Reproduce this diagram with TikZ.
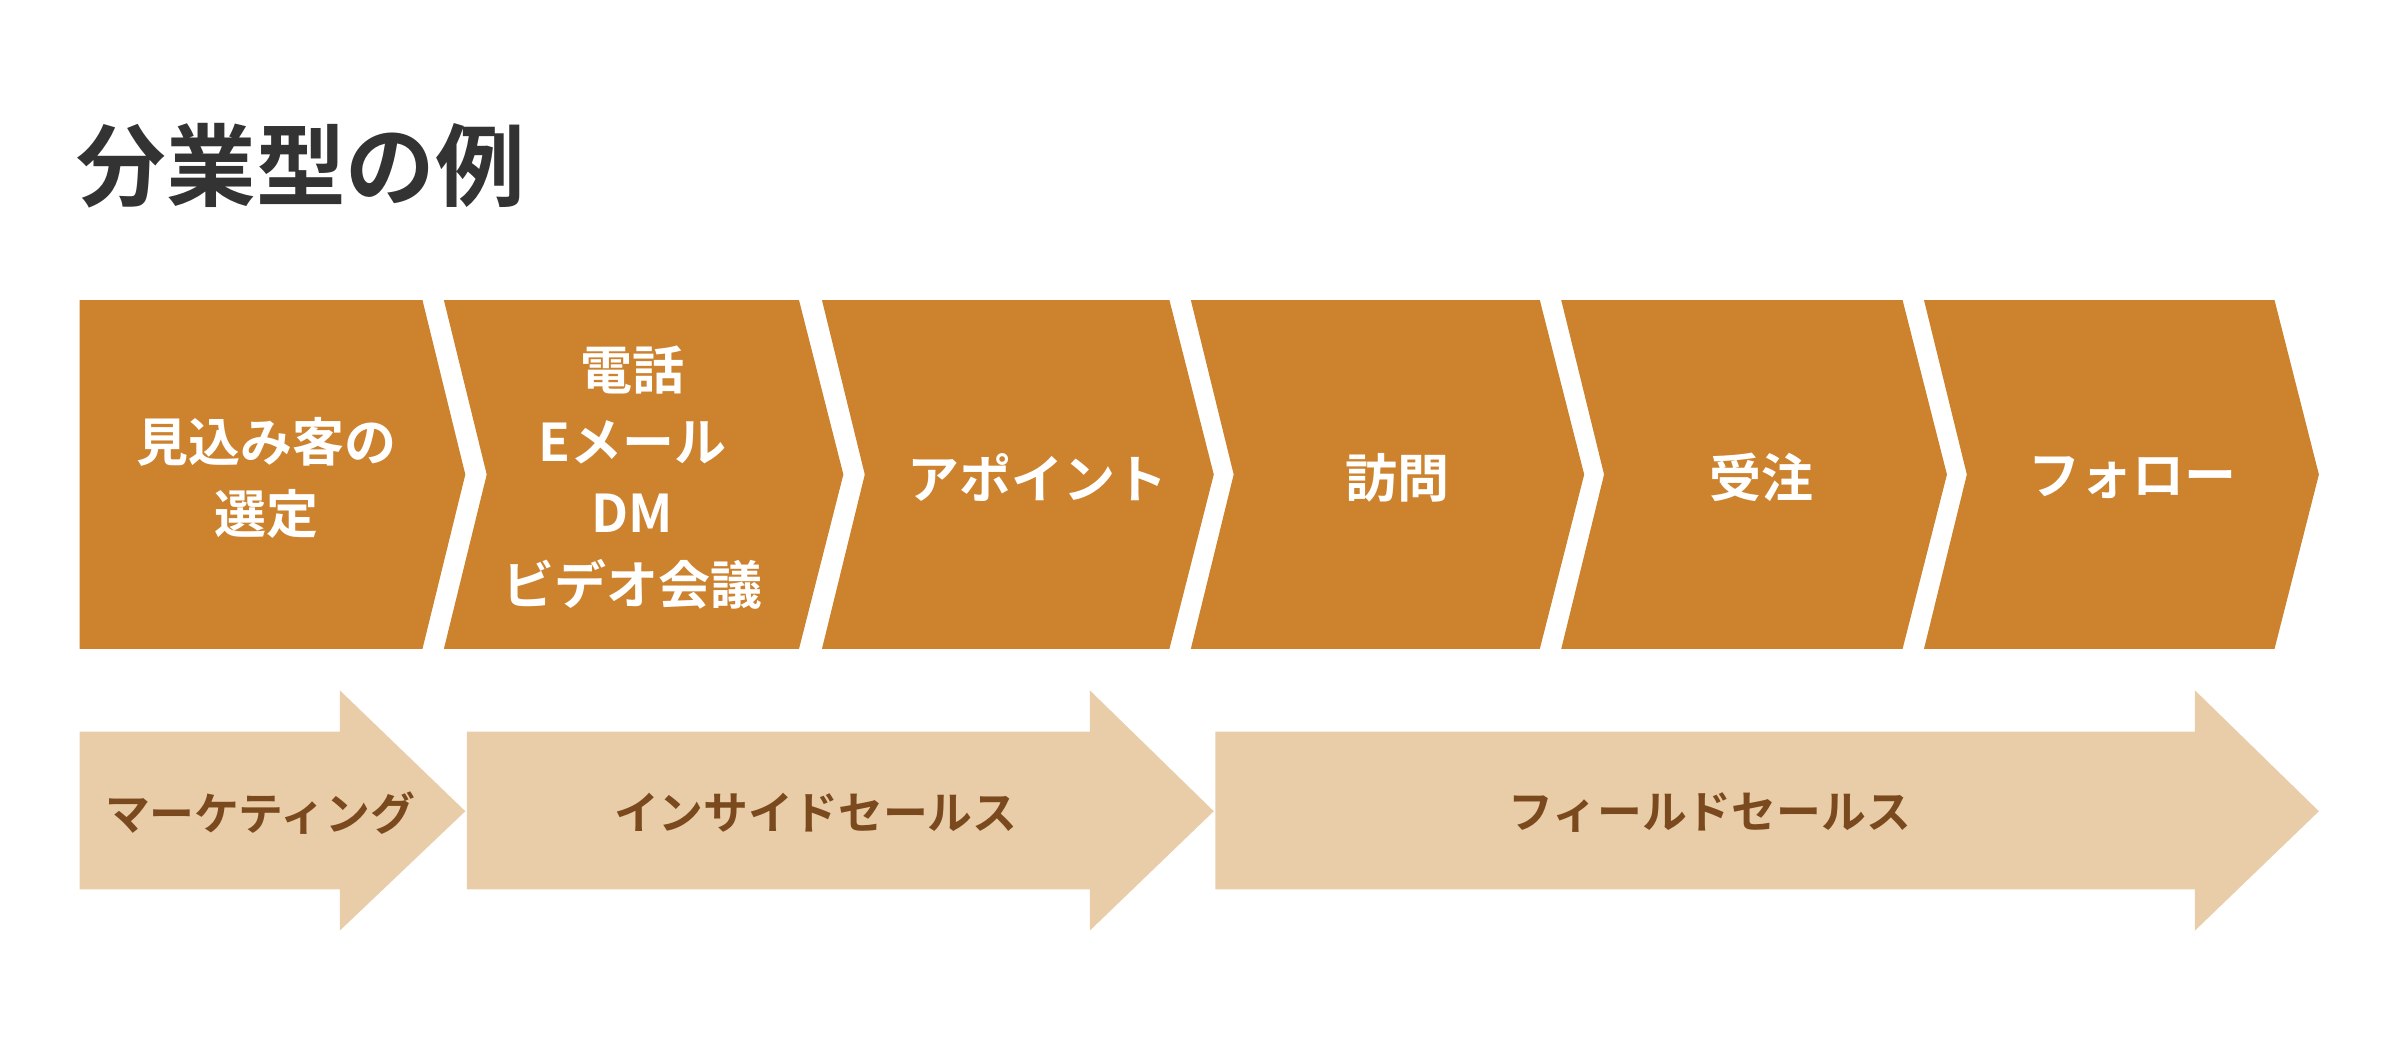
\documentclass[tikz,border=0pt]{standalone}
\usepackage{fontspec}
\setmainfont{Noto Sans CJK JP}[BoldFont={* Bold}]
\definecolor{dark}{HTML}{CD822E}
\definecolor{light}{HTML}{E9CDA9}
\definecolor{brown}{HTML}{7A4A1E}
\definecolor{ttl}{HTML}{333333}
\begin{document}
\begin{tikzpicture}[x=0.3mm,y=-0.3mm,
  chev/.style={fill=dark,draw=none},
  arr/.style={fill=light,draw=none},
  ctext/.style={text=white,font=\bfseries\fontsize{29}{40}\selectfont,align=center},
  atext/.style={text=brown,font=\bfseries\fontsize{25}{30}\selectfont}]
\useasboundingbox (0,0) rectangle (1568,685);
\node[text=ttl,font=\bfseries\fontsize{50}{60}\selectfont,anchor=west,inner sep=0] (title) at (50,108) {分業型の例};
% chevrons
\fill[chev] (52,196) -- (276,196) -- (304,310) -- (276,424) -- (52,424) -- cycle;
\foreach \l/\r in {290/522,537/764,778/1006,1020/1243,1257/1486}{
  \fill[chev] (\l,196) -- (\r,196) -- (\r+29,310) -- (\r,424) -- (\l,424) -- (\l+28,310) -- cycle;}
\node[ctext] (c1) at (174,312) {見込み客の\\選定};
\node[ctext] (c2) at (413,312) {電話\\Eメール\\DM\\ビデオ会議};
\node[ctext] (c3) at (678,312) {アポイント};
\node[ctext] (c4) at (913,312) {訪問};
\node[ctext] (c5) at (1151,312) {受注};
\node[ctext] (c6) at (1393,312) {フォロー};
% bottom arrows
\foreach \a/\b/\t in {52/222/304,305/712/793,794/1434/1515}{
  \fill[arr] (\a,478) -- (\b,478) -- (\b,451) -- (\t,530) -- (\b,608) -- (\b,581) -- (\a,581) -- cycle;}
\node[atext] (a1) at (170,531) {マーケティング};
\node[atext] (a2) at (533,531) {インサイドセールス};
\node[atext] (a3) at (1117,531) {フィールドセールス};
\end{tikzpicture}
\end{document}
